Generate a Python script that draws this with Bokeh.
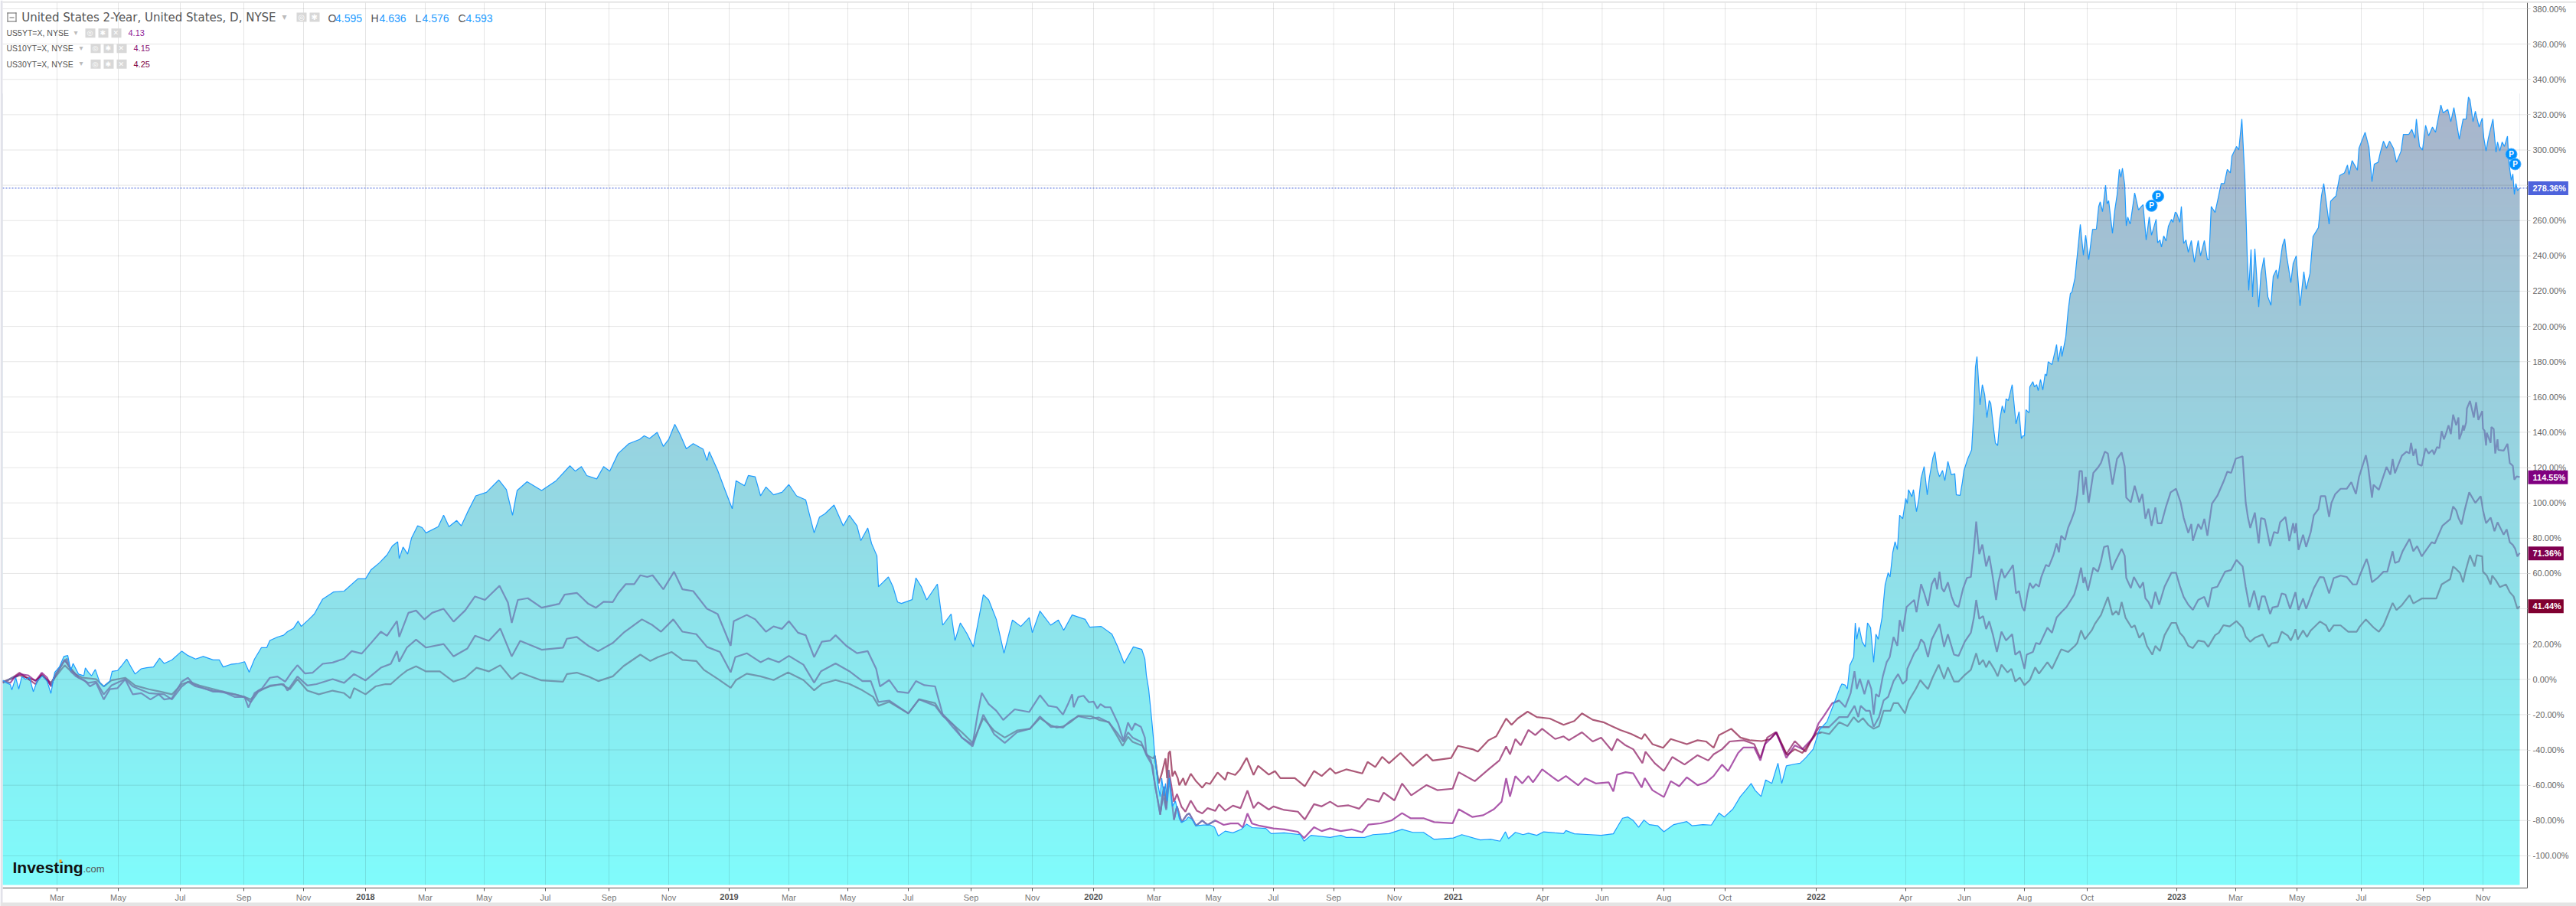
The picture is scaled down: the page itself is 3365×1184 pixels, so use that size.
import numpy as np
from bokeh.plotting import figure
from bokeh.models import (Range1d, FixedTicker, PrintfTickFormatter, Label, BoxAnnotation)
from bokeh.core.properties import value
from bokeh.embed import file_html
from bokeh.resources import INLINE

# chart position (session scale of the time axis), percent change since start
US2Y = [(3,-0.5),(8,-2),(13,-3),(15,-6),(20,1),(24,-5.5),(28,1.5),(33,0),(38,1),(43,-7),(48,-1),(55,2),(61,-1),(66,-8),(71,4),(77,7),(83,13),(88,13.5),(92,5),(95,9),(102,3),(109,2),(111,6.5),(115,4),(119,2),(124,5.6),(130,-2),(135,-4),(143,-1),(146,4.5),(153,5),(158,7.5),(165,11.5),(170,7.5),(176,3),(184,6),(191,6.6),(200,7),(208,12),(214,9),(224,11),(237,16),(245,13.5),(255,11.5),(265,13),(278,11),(286,11),(291,7),(301,8.5),(311,9),(319,10),(325,4),(332,11.5),(341,18),(348,18),(352,22),(362,24),(370,25),(375,27),(383,29),(389,33),(393,30),(403,34),(410,37),(421,45.5),(435,49.5),(449,50),(467,57),(477,57),(484,62),(495,66),(505,70.5),(512,75.6),(519,78),(521,68.4),(526,75),(532,71),(537,80),(545,87),(551,86),(556,83),(572,86.5),(579,93),(586,86.5),(596,90),(602,87),(610,94.5),(621,104),(635,106),(651,113),(661,107.5),(669,93),(675,107),(688,112),(707,107),(726,112.6),(744,121),(751,118),(759,120.6),(766,115.5),(779,113.6),(788,120.6),(796,118),(807,128),(821,133.6),(835,136),(841,138),(848,136.5),(858,140),(866,132),(873,136),(881,144.5),(888,138.7),(896,130.7),(905,133.6),(918,130.4),(923,124),(926,129),(937,118.4),(947,106.8),(956,96.7),(961,112.6),(972,109.7),(977,115.5),(986,114.8),(993,104),(1000,109),(1010,104.6),(1021,106),(1030,110.4),(1040,104),(1052,101.7),(1063,83),(1070,92),(1077,93.8),(1089,98.8),(1101,87),(1109,93),(1119,87),(1124,78.6),(1133,85.8),(1138,77),(1145,70),(1147,52.5),(1152,54.6),(1160,58),(1166,52.5),(1172,43.8),(1177,43),(1191,45.2),(1196,57.5),(1203,52.5),(1210,45),(1224,54),(1231,30.7),(1242,37),(1247,22),(1254,32),(1263,25.6),(1271,18.4),(1284,48),(1291,45),(1301,34),(1311,14.8),(1322,33.6),(1333,30),(1344,35),(1348,26.4),(1358,38.7),(1372,30.7),(1382,33.6),(1389,27.8),(1400,36.5),(1417,34),(1423,29.6),(1438,30),(1452,25.6),(1459,19),(1468,9),(1480,18.4),(1491,17),(1495,11.7),(1497,2.3),(1500,-5.6),(1504,-23),(1507,-37.5),(1508,-43),(1512,-59),(1515,-66.5),(1517,-56),(1520,-66),(1522,-59),(1524,-69),(1527,-56),(1531,-72),(1535,-69),(1540,-79),(1543,-81),(1548,-80),(1552,-78),(1557,-79.5),(1562,-83),(1572,-82.5),(1580,-82.5),(1586,-83.8),(1591,-88.8),(1600,-86),(1610,-87),(1621,-85),(1628,-82),(1635,-84),(1653,-84.5),(1660,-87.4),(1677,-87),(1698,-88),(1703,-91.7),(1712,-88.4),(1737,-89.6),(1751,-88.4),(1758,-89.6),(1782,-89.6),(1793,-88),(1814,-87.4),(1831,-85),(1845,-86.7),(1859,-86.7),(1873,-90.7),(1898,-89.9),(1909,-88),(1933,-91),(1947,-90.7),(1959,-91.7),(1966,-86.4),(1970,-90.3),(1979,-86.7),(1989,-88),(1996,-87.2),(2007,-88.4),(2016,-86.4),(2031,-87),(2042,-87.4),(2045,-85.7),(2056,-87.5),(2077,-88),(2091,-88.4),(2107,-87.5),(2112,-83.8),(2119,-78.7),(2126,-78),(2133,-80),(2140,-83.8),(2147,-79.7),(2154,-82.3),(2165,-83),(2173,-86.4),(2186,-82.3),(2203,-80.6),(2210,-83),(2224,-82.3),(2235,-82.6),(2245,-75.8),(2252,-78),(2263,-73.6),(2273,-66.4),(2280,-62.8),(2287,-59),(2292,-62.8),(2300,-66.4),(2306,-57),(2314,-59),(2322,-47.5),(2327,-59),(2333,-49),(2344,-48),(2351,-47.5),(2358,-44.6),(2368,-39.6),(2376,-28.7),(2386,-24),(2396,-12.8),(2403,-4.8),(2405.5,-2.6),(2410,-3.3),(2412.6,-5.5),(2416,8),(2421,12.6),(2423,32),(2425,22.7),(2428,29.6),(2432,21.3),(2436,18.4),(2439,32),(2443,29.3),(2447,9.7),(2450,25.6),(2453,22.7),(2458,35),(2462,53.6),(2466,60.4),(2468.5,58),(2472,72),(2475,78),(2478,73.5),(2481,93),(2485,91),(2489,102.5),(2491,99.6),(2492.6,107.5),(2497,103.5),(2499,107.5),(2503,95),(2506,102),(2509,114),(2513,120.6),(2517,104.6),(2520,114.8),(2524.5,125.7),(2527,129),(2530,119),(2533,114.8),(2537,118.4),(2540,112.6),(2544,123.5),(2548.5,116),(2553,116.5),(2555,104.6),(2560,104.3),(2563,112),(2565,118.4),(2570,125),(2575,130),(2578,153.5),(2580,177),(2582,183),(2586,155.6),(2589,167),(2592,161.5),(2595,148.4),(2598,158),(2600,156.4),(2603,144.8),(2606,134),(2609,132.5),(2612,147.7),(2615,155),(2618,151),(2620,159),(2623,158),(2628,167),(2633,144.8),(2637,151.7),(2640,136.4),(2642,138),(2644,138),(2646,152.8),(2650,151),(2651,165.8),(2655,168.7),(2657,165.8),(2660,167),(2662,163.6),(2665,170),(2668,164),(2671,173),(2673,172),(2675,180),(2680,178.4),(2686,189.7),(2688,180),(2692,189),(2693,183),(2698,194),(2701,208.6),(2704,218.7),(2706,219.4),(2710,227.4),(2713,240.4),(2717,257.8),(2721,240.4),(2724,251.7),(2728,237.8),(2733,255),(2738,255.2),(2741,268),(2743,270.6),(2746,265),(2750,280),(2752,269.4),(2754,271.3),(2759,252.8),(2762,265.8),(2765,274.5),(2768,289),(2770,284.6),(2772,289.7),(2775,280.3),(2777,257),(2779,262),(2782,258),(2783,260.4),(2788,275.7),(2793,266),(2796,267.6),(2799,269),(2803,249),(2807,262),(2810,251.7),(2816,260.7),(2818,247.4),(2821,249),(2823,245),(2826,251.3),(2829,248.4),(2832,256.7),(2836,260.7),(2838,259),(2841,264.8),(2843,264),(2847,259),(2849,268),(2852,247),(2855,249),(2858,242),(2862,248.7),(2866,236.4),(2871,248.7),(2874,240),(2879,248.7),(2883,237.8),(2885,237.8),(2888,268),(2893,264.6),(2897,272.6),(2901,281),(2905,281),(2909,289),(2913,287),(2915,296.5),(2921,302),(2924,300),(2928,317.5),(2932,283.5),(2935,240),(2937,220.4),(2940,243.6),(2942,216.8),(2945,244),(2950,211),(2953,230),(2957,239),(2962,216.8),(2966,212),(2969,228.4),(2973,232),(2975,227),(2981,245.8),(2984,249.7),(2986,241.5),(2992,224.8),(2995,235.6),(2999,240),(3004,211.7),(3009,231),(3012,221),(3017,230),(3021,251),(3028,256),(3032,274),(3035,281),(3042,258),(3044,271),(3051,274),(3056,285.6),(3062,287),(3066,291.5),(3068,286),(3072,294),(3079,288.5),(3081,301),(3089,310),(3094,301.6),(3098,282),(3101,292),(3106,293),(3109,298.7),(3113,305),(3117,301),(3121,305),(3126,301),(3130,293),(3136,299.4),(3139,308.8),(3146,308.8),(3150,311.7),(3154,306.7),(3156,317.5),(3160,302),(3164,300),(3168,314),(3172,308),(3177,313),(3181,310),(3188,325.5),(3191,321),(3197,323),(3201,316),(3205,324),(3209,314),(3212,306),(3217,317.5),(3221,317.5),(3224,330),(3226,328.4),(3230,316),(3233,322),(3238,313),(3242,318),(3244,307),(3247,299.4),(3250,306.7),(3256,317.5),(3260,298.7),(3262,304.5),(3265,299.4),(3268,304.5),(3271,302),(3275,307.8),(3277,292),(3280,282.8),(3282,286.4),(3284,274.8),(3286,281),(3288,277),(3291,278.4)]

US5Y = [(3,-1),(13,-2),(18,1),(25,3),(36,2.3),(46,-1),(54,3.8),(61,1),(66,-4),(71,2.3),(82,9.5),(87,11.7),(92,4.5),(99,1.6),(110,-0.6),(117,-4),(125,-2),(135,-11.4),(143,-5.6),(153,-5),(163,0),(173,-8.5),(184,-7.8),(196,-11.4),(207,-8.5),(214,-11.4),(224,-10.7),(237,-1.3),(245,0.9),(252,-2.7),(265,-5),(278,-7),(291,-7),(306,-10),(319,-10),(324,-16),(332,-7.8),(342,-5),(352,0.9),(362,1.6),(372,-1.3),(380,3.8),(388,8),(398,3.3),(408,3.8),(421,8.8),(434,9.5),(449,11.7),(459,16),(472,14.6),(485,21),(497,27),(505,24.7),(518,33),(521,24),(533,37.7),(543,39),(554,34),(564,37.7),(579,40),(592,32.7),(607,39),(620,47),(633,45),(652,53),(663,43.5),(668,32),(676,45),(689,46),(707,40.6),(730,42.8),(737,48),(753,49),(768,42.8),(778,40.6),(788,44),(800,43.8),(807,48.8),(817,54),(828,54),(836,59),(845,58),(852,59),(866,51),(880,61),(891,51),(905,50),(923,40),(937,37),(954,19),(958,33),(975,36.5),(986,34),(1000,27),(1010,30),(1021,28.6),(1030,33),(1042,26.4),(1052,25),(1063,12.6),(1073,21.3),(1084,22),(1091,25),(1105,19),(1119,14.8),(1133,16),(1144,6),(1149,-4),(1161,-0.4),(1172,-7),(1186,-7.7),(1196,-1),(1207,-3.3),(1221,-4),(1231,-20),(1242,-26),(1256,-33),(1270,-37),(1277,-18.5),(1282,-7.7),(1291,-14),(1301,-17.8),(1310,-23),(1325,-17),(1344,-18.5),(1358,-9),(1369,-15),(1380,-15.8),(1388,-20),(1395,-13.6),(1400,-8.5),(1402,-15.8),(1408,-10),(1415,-9.3),(1422,-13),(1428,-12.6),(1433,-16.5),(1437,-14),(1443,-15.8),(1450,-15.8),(1460,-25),(1467,-34.6),(1473,-24.5),(1478,-28.8),(1482,-25),(1490,-27),(1495,-33),(1497,-42),(1503,-46),(1508,-59),(1515,-76),(1518,-65),(1523,-74),(1527,-56),(1533,-79.6),(1537,-72),(1543,-81),(1550,-76.7),(1553,-76),(1562,-83),(1570,-80),(1577,-82.5),(1587,-80),(1598,-82.5),(1607,-81.7),(1617,-81.7),(1623,-84),(1629,-76),(1635,-81.7),(1645,-83),(1663,-84.5),(1677,-85),(1695,-86.4),(1703,-90),(1716,-83.8),(1726,-86),(1737,-84.5),(1751,-86),(1765,-85),(1779,-86.7),(1787,-82.3),(1803,-81.6),(1817,-80),(1831,-75.8),(1842,-78.7),(1859,-78.7),(1873,-80.9),(1897,-81.6),(1905,-73.6),(1923,-78),(1937,-77),(1951,-73.6),(1961,-69.3),(1967,-56),(1972,-66.4),(1979,-54.8),(1988,-59),(1996,-54.8),(2002,-58.4),(2014,-51),(2028,-55.5),(2035,-57.7),(2045,-54.8),(2061,-60),(2070,-56),(2084,-59),(2101,-58.4),(2107,-63.5),(2112,-54),(2123,-52.6),(2133,-53.3),(2144,-61.3),(2148,-56),(2158,-62.8),(2173,-66.7),(2182,-57.7),(2193,-60.6),(2203,-55.5),(2217,-60),(2228,-58.4),(2238,-54.8),(2249,-48.3),(2257,-52),(2270,-41.7),(2277,-38.6),(2291,-38.6),(2299,-46),(2305,-36.7),(2312,-33.8),(2320,-30),(2333,-44.6),(2344,-37.4),(2354,-39.6),(2368,-33),(2375,-25),(2382,-20.7),(2393,-13.5),(2402,-12),(2410,-15.7),(2417,-7.7),(2422,4.6),(2425,-5.5),(2429,0.3),(2435,-8.4),(2440,-0.4),(2444,-5.5),(2447,-20),(2450,-8.4),(2454,-9.9),(2459,1.7),(2464,9.7),(2468,12.6),(2473,24),(2478,19),(2481,33.6),(2485,27),(2490,41),(2500,45),(2503,38),(2506,46),(2509,54),(2513,49),(2518,41.6),(2523,54),(2527,57.5),(2530,51),(2533,61),(2536,51.7),(2539,49.6),(2544,55),(2549,46.7),(2553,42.3),(2558,41),(2564,51.7),(2569,57.5),(2574,58),(2578,74),(2581,89.4),(2585,71),(2589,76.4),(2594,64),(2598,70),(2602,59.7),(2607,45),(2610,55),(2614,62.6),(2618,57.5),(2626,62.6),(2629,64.8),(2633,48.8),(2637,50),(2641,41),(2644,38.7),(2648,48.8),(2651,54.6),(2655,51.7),(2659,54),(2663,52.5),(2666,58),(2672,64.8),(2676,64),(2682,70.6),(2686,77),(2689,72),(2692,81.4),(2697,79),(2701,85.8),(2705,90),(2710,96),(2713,104.6),(2716,118),(2719,118),(2721,104.6),(2724,114.8),(2728,100),(2734,117),(2740,120),(2744,122.7),(2749,129),(2753,128),(2759,110.4),(2765,125),(2771,128.6),(2775,120.6),(2777,103),(2783,100.3),(2788,109.7),(2794,100.3),(2798,105),(2802,91),(2806,96.7),(2810,87),(2815,97.4),(2818,88.4),(2823,88.4),(2829,98),(2835,106),(2842,108),(2848,100.3),(2852,91.6),(2858,83),(2862,88),(2864,78.6),(2871,88),(2875,85),(2879,91),(2883,81.4),(2889,99.6),(2896,104),(2904,112),(2909,117.7),(2914,117),(2920,125),(2929,126.4),(2933,100.3),(2936,91.6),(2939,85.8),(2945,94.5),(2950,77),(2953,91.4),(2958,90.7),(2965,75.5),(2970,83.5),(2975,82.8),(2978,89),(2985,92),(2990,78.4),(2995,88.5),(2997,82.8),(2999,88.5),(3002,73.3),(3008,82),(3012,75),(3018,83.5),(3022,93),(3028,96.5),(3031,103.8),(3037,103.8),(3042,92),(3045,100),(3050,105),(3057,108),(3065,108),(3071,111.7),(3077,105),(3081,114.6),(3090,127),(3093,120.4),(3098,103),(3100,110.3),(3107,107.4),(3117,120.4),(3122,116),(3125,124.8),(3128,116.8),(3137,126.7),(3143,129),(3147,128),(3149,134),(3152,126.7),(3155,130.6),(3158,122),(3163,121),(3168,131),(3172,128),(3177,130),(3179,127.4),(3183,131.7),(3186,131),(3189,140.7),(3192,136),(3195,139.7),(3198,144),(3201,139),(3204,150),(3208,144),(3211,148.4),(3212,136),(3215,139.7),(3217,144),(3218,141),(3221,145.5),(3222,153.5),(3226,157.8),(3231,148.4),(3234,157),(3237,147),(3242,152),(3243,142),(3245,141),(3247,132.5),(3248,139.7),(3253,134),(3254,143),(3257,141.9),(3259,128),(3262,136),(3263,130),(3270,129.6),(3275,133.5),(3278,122.6),(3282,121),(3284,113.2),(3287,115),(3291,114.6)]

US10Y = [(3,-2),(18,1.6),(25,3.8),(46,-2.7),(54,3),(66,-3.5),(71,1.6),(84,11),(92,6),(102,1),(115,-2),(125,-1.3),(135,-8.5),(145,-3.5),(163,0.1),(173,-4),(194,-7.8),(214,-8.5),(224,-11.4),(237,-4),(245,-1.3),(255,-4),(278,-6.4),(306,-8.5),(319,-10),(327,-12.9),(337,-7),(352,-3.5),(370,-2.7),(375,-6.4),(388,1.6),(401,-3.5),(413,-2.7),(434,0.1),(449,-2),(462,3),(477,-0.6),(497,6.6),(510,8.8),(518,16),(521,10),(531,18),(543,22.5),(556,18),(579,20),(592,13),(610,17.5),(620,24.7),(638,21.8),(653,28.8),(668,13),(679,21.8),(707,16.8),(735,18),(740,23),(753,24),(768,19),(781,16),(800,20.6),(814,26.4),(838,34),(852,30.7),(863,27),(879,34),(891,27),(909,25.6),(923,18.4),(940,15.5),(954,4),(960,12.6),(975,14.8),(993,9.7),(1003,11.9),(1017,9.7),(1030,13.3),(1049,8.3),(1063,-1.9),(1072,4.6),(1091,9),(1109,4.6),(1126,-1),(1137,-1),(1147,-12.8),(1161,-12),(1186,-19.3),(1200,-11.3),(1221,-15),(1231,-20.7),(1245,-25.8),(1256,-33),(1270,-38),(1284,-20),(1298,-31),(1312,-36),(1328,-30),(1345,-28),(1358,-21),(1372,-27),(1380,-26.7),(1388,-27.4),(1397,-23.8),(1408,-20.9),(1423,-22.3),(1435,-21.6),(1448,-24.5),(1460,-31),(1467,-35.4),(1473,-30),(1479,-33),(1490,-35.4),(1497,-43),(1505,-49),(1508,-59),(1515,-76.7),(1520,-60.7),(1523,-73),(1526,-51.3),(1528,-56),(1533,-69.4),(1537,-65),(1543,-72.3),(1548,-75),(1555,-68.7),(1563,-74.5),(1570,-76),(1577,-73),(1587,-74.5),(1592,-70.9),(1600,-74.5),(1610,-71.6),(1620,-73),(1629,-63),(1637,-73),(1643,-69.7),(1657,-73.8),(1663,-72),(1677,-74),(1695,-75),(1704,-79.4),(1716,-70.7),(1726,-72),(1737,-69.3),(1747,-72),(1761,-71.4),(1775,-73.3),(1786,-67.8),(1801,-69.3),(1807,-64.2),(1821,-68.6),(1831,-59),(1843,-65.7),(1863,-59.9),(1877,-62.8),(1897,-62),(1905,-52.6),(1926,-57.7),(1944,-51),(1958,-46),(1967,-38),(1972,-42.5),(1979,-33.8),(1986,-37.4),(1996,-28.7),(2005,-31.6),(2014,-28),(2031,-33.8),(2042,-32.3),(2049,-34.5),(2066,-30),(2080,-35.2),(2091,-33),(2105,-40.3),(2112,-33.8),(2123,-37.4),(2133,-39.6),(2145,-47.5),(2149,-41),(2161,-47.5),(2173,-51.9),(2184,-44),(2200,-48.3),(2217,-43),(2231,-46),(2238,-42.5),(2249,-39.6),(2259,-35.2),(2277,-34.5),(2291,-36.7),(2299,-44.6),(2308,-33),(2319,-30),(2333,-42.5),(2344,-35),(2358,-41),(2368,-32.3),(2376,-27),(2389,-27),(2402,-21.4),(2413,-21.4),(2422,-15),(2427,-21.4),(2430,-15),(2437,-17.8),(2442,-17.8),(2447,-27),(2454,-21.4),(2460,-12),(2466,-9.9),(2473,-1),(2479,3),(2485,-2.6),(2490,-0.4),(2491,6),(2500,14.8),(2505,17.7),(2509,22.7),(2513,20.6),(2518,12.6),(2523,22.7),(2533,31.4),(2539,18.4),(2544,25.6),(2552,14),(2558,13.3),(2566,21.3),(2574,26.4),(2578,35),(2581,45),(2585,34.3),(2590,35.8),(2594,28.5),(2598,32.9),(2603,25),(2608,15.5),(2614,27),(2620,22),(2628,25.6),(2632,14),(2638,16),(2644,6),(2647,14),(2655,15.5),(2659,20.6),(2664,19.9),(2674,29.3),(2680,26.4),(2686,35),(2692,38),(2699,41),(2709,48),(2713,54),(2718,63.3),(2721,54.6),(2723,58),(2727,50.3),(2734,63.3),(2740,61),(2744,67),(2748,75),(2753,75.7),(2758,62),(2763,67),(2771,74),(2775,70),(2777,57.5),(2783,51.7),(2787,58),(2795,51.7),(2799,55),(2802,46),(2806,43.8),(2810,40),(2815,49.6),(2820,42.3),(2827,52.5),(2836,60.4),(2842,60.4),(2847,53),(2852,46.7),(2858,42.3),(2864,39.4),(2871,45),(2879,46.7),(2884,40.9),(2889,51.7),(2896,52.5),(2906,61),(2914,62),(2921,67.7),(2929,64),(2933,52.5),(2938,40.9),(2944,50.3),(2950,39.3),(2954,47),(2958,47),(2965,37),(2968,40.7),(2975,41.4),(2980,48.7),(2985,48),(2991,40),(2998,49.4),(3002,39.3),(3008,45.8),(3012,40),(3022,51.6),(3030,58),(3035,57.8),(3042,48.7),(3048,57.4),(3057,58.8),(3065,58),(3073,53.8),(3078,53.8),(3082,58.8),(3091,68.3),(3094,64),(3098,55),(3105,57.4),(3113,61),(3118,61),(3125,72.6),(3128,66),(3133,66.8),(3138,72.6),(3147,79.6),(3152,72.6),(3157,75.5),(3163,69.7),(3170,74),(3176,77.7),(3180,77),(3190,87),(3200,90.7),(3204,98),(3208,95.8),(3211,91.4),(3215,87.8),(3219,95.8),(3225,106),(3233,100),(3240,103.8),(3243,95.8),(3247,88.5),(3253,91.7),(3258,84),(3262,89),(3270,82),(3274,85),(3278,77.7),(3282,76.2),(3285,74),(3288,69.7),(3291,71.6)]

US30Y = [(3,-1.6),(25,2.3),(46,-0.6),(54,2.3),(66,-2),(71,0.9),(84,8),(94,3.8),(107,1),(125,0.1),(135,-4),(145,-0.6),(163,0.9),(176,-3.5),(194,-5.6),(209,-7),(224,-8.5),(237,-2.7),(247,-1.3),(260,-3.5),(286,-6.4),(306,-8.5),(319,-10),(327,-11.4),(337,-6.4),(352,-4),(367,-2.7),(378,-5.6),(388,0.1),(401,-6.4),(416,-8.5),(434,-6.4),(449,-7.8),(457,-10.7),(462,-5),(477,-8.5),(490,-4),(503,-2.7),(510,-2.7),(523,2.3),(531,5),(543,7.4),(556,4.5),(574,4.5),(592,-1.3),(607,0.9),(622,6.6),(638,4.5),(653,8),(668,0.1),(679,3.8),(707,-0.6),(735,-1.3),(740,3),(753,3.8),(768,1.6),(781,-1),(800,1.7),(814,7.5),(836,14),(849,10.4),(859,12.6),(877,15.5),(891,11),(909,10.4),(919,5.4),(937,0.3),(954,-4.8),(961,-0.4),(975,3.2),(993,1.7),(1010,-0.4),(1029,3.9),(1049,-0.4),(1063,-6.2),(1073,-2.6),(1091,-0.4),(1109,-2.6),(1126,-6.2),(1140,-9.9),(1147,-15),(1161,-12.8),(1186,-19.3),(1200,-11.3),(1221,-13.5),(1228,-18.5),(1245,-25.8),(1256,-30),(1270,-36),(1284,-22),(1298,-29),(1312,-33),(1328,-29),(1345,-28),(1358,-22),(1372,-26),(1380,-27.4),(1388,-26.7),(1397,-24.5),(1408,-20.6),(1425,-20.9),(1435,-23),(1448,-24.2),(1460,-33),(1466,-37.7),(1473,-32.5),(1479,-35.4),(1492,-37.7),(1498,-43),(1506,-44.8),(1508,-43.3),(1513,-59),(1517,-53.5),(1522,-44.8),(1524,-56),(1526,-41.9),(1528,-40.7),(1531,-55),(1534,-52),(1538,-56),(1540,-60),(1545,-56),(1548,-60),(1555,-53.5),(1562,-57.8),(1570,-61.4),(1575,-58.6),(1580,-59.3),(1590,-52.8),(1600,-57),(1603,-52.8),(1613,-54.2),(1619,-51.3),(1628,-44.5),(1637,-54.2),(1643,-49),(1657,-54),(1665,-52),(1672,-56),(1680,-56),(1691,-56),(1704,-60.6),(1716,-51.9),(1726,-54.8),(1737,-50.4),(1744,-53.3),(1758,-51),(1779,-53.3),(1786,-46.8),(1796,-49.7),(1805,-43.9),(1814,-47.5),(1829,-41.7),(1845,-49),(1863,-42.5),(1871,-46),(1895,-44.6),(1904,-37.7),(1923,-39.6),(1930,-41),(1944,-34.5),(1954,-32.3),(1967,-22.2),(1974,-25.8),(1982,-22.2),(1995,-18.3),(2007,-21.4),(2024,-22.2),(2042,-25.8),(2056,-23.6),(2066,-19.3),(2080,-22.9),(2094,-24.3),(2105,-26.5),(2116,-28.7),(2130,-30.9),(2144,-33.8),(2148,-30.9),(2158,-36.7),(2172,-38.8),(2182,-33.8),(2203,-36.7),(2217,-34.5),(2228,-35.2),(2238,-38.8),(2245,-31.6),(2261,-28),(2273,-33),(2285,-34.5),(2301,-35),(2312,-33.8),(2320,-30),(2334,-43),(2344,-39.6),(2354,-41.7),(2365,-35),(2372,-30.9),(2379,-30),(2389,-31),(2402,-24.3),(2413,-26.5),(2421,-21.4),(2427,-24.3),(2433,-22),(2440,-25.8),(2447,-28),(2454,-26.5),(2460,-17.8),(2469,-17.8),(2473,-13.5),(2479,-13.5),(2488,-19.3),(2493,-12),(2502,-5.5),(2508,-0.4),(2512,-2.6),(2518,-5.5),(2524,1),(2532,8.3),(2539,0.3),(2544,6.8),(2552,-1.2),(2558,-1.2),(2566,2.5),(2574,5.4),(2581,14.8),(2585,8.3),(2590,11),(2594,6.8),(2598,10.4),(2605,5.4),(2609,1.7),(2614,8.3),(2622,3.9),(2627,6),(2632,-1.2),(2638,1),(2644,-3.3),(2651,-0.4),(2658,6.8),(2663,3.2),(2674,9.7),(2680,6),(2692,17),(2701,15.5),(2710,19),(2713,20.6),(2718,27.8),(2723,22.7),(2732,27.8),(2736,31.4),(2744,36.5),(2753,46.7),(2759,36.5),(2764,38.7),(2767,36.5),(2771,43.8),(2776,35),(2784,29.3),(2788,30.7),(2794,23.5),(2799,26.4),(2804,19),(2811,14),(2815,19),(2821,16),(2827,25),(2836,32),(2842,32),(2847,26.4),(2852,24),(2858,19),(2864,17.7),(2871,22),(2879,21.3),(2884,18.4),(2893,25),(2898,26.4),(2904,30.7),(2912,30),(2921,33),(2929,29.3),(2933,24.2),(2939,21.3),(2945,23.5),(2952,24.8),(2955,25.5),(2963,18.3),(2967,20.4),(2975,21),(2980,27),(2988,24.8),(2992,22),(2995,24.8),(2998,28.4),(3001,22.6),(3008,27.7),(3013,24),(3018,27.7),(3030,32.8),(3038,30.6),(3042,27),(3048,30.6),(3057,30.6),(3067,27),(3078,27),(3082,29.9),(3090,34),(3100,29.4),(3107,27),(3113,30.6),(3125,43.3),(3130,39.3),(3137,42),(3147,47.7),(3152,43),(3163,45.8),(3170,45.8),(3182,45.8),(3189,53.8),(3200,56.7),(3204,64),(3208,62.5),(3213,60.3),(3217,55),(3220,61),(3226,70.4),(3232,64),(3235,70.4),(3242,69.7),(3243,61),(3248,58.8),(3253,53.8),(3255,58.8),(3260,56),(3265,52.3),(3273,53.8),(3278,49.4),(3283,47),(3288,40),(3291,41.4)]

tick_pos = [74,154,235,318,396,477,555,632,712,795,873,952,1030,1107,1186,1268,1348,1428,1507,1584.5,1663,1741.6,1821,1898,2014.5,2092.4,2173,2253,2372,2489,2565.5,2644,2726,2843,2920,3000,3084,3165,3243]
tick_txt = ["Mar","May","Jul","Sep","Nov","2018","Mar","May","Jul","Sep","Nov","2019","Mar","May","Jul","Sep","Nov","2020","Mar","May","Jul","Sep","Nov","2021","Apr","Jun","Aug","Oct","2022","Apr","Jun","Aug","Oct","2023","Mar","May","Jul","Sep","Nov"]
y_ticks = list(range(-100, 381, 20))

last_vals = [("278.36%", 278.36, "#4E63DC"), ("114.55%", 114.55, "#800080"), ("71.36%", 71.36, "#800050"), ("41.44%", 41.44, "#800030")]
pins = [(2818.6, 273.8), (2810, 268.4), (3280, 297.6), (3285, 292)]

PX = 2.306
def Y(py):
    return (887.3 - py) / PX

X_L, X_R = 3, 3301
Y_T, Y_AX, Y_FILL = Y(3), Y(1160), Y(1156)

p = figure(width=3365, height=1184, output_backend="svg", toolbar_location=None,
           x_range=Range1d(0, 3365), y_range=Range1d(Y(1184), Y(0)), y_axis_location="right",
           min_border_left=0, min_border_right=0, min_border_top=0, min_border_bottom=0,
           background_fill_color="white", border_fill_color="white", outline_line_color=None)

FONT = "Liberation Sans"
xb, yb = np.array(US2Y).T

# gradient under the 2-Year area
n = 450
top, bot = (170, 180, 203), (128, 252, 252)
img = np.zeros((n, 2), dtype=np.uint32)
view = img.view(dtype=np.uint8).reshape((n, 2, 4))
for k in range(n):
    t = k / (n - 1)
    view[k, :, 0] = int(bot[0] + (top[0] - bot[0]) * t)
    view[k, :, 1] = int(bot[1] + (top[1] - bot[1]) * t)
    view[k, :, 2] = int(bot[2] + (top[2] - bot[2]) * t)
    view[k, :, 3] = 255
p.image_rgba(image=[img], x=3, y=Y_FILL, dw=3288, dh=332 - Y_FILL, level="image")
p.varea(x=xb, y1=yb, y2=[400] * len(xb), fill_color="white", level="image")

# grid, stopped at the axes
p.grid.visible = False
p.segment(x0=tick_pos, x1=tick_pos, y0=[Y_FILL] * len(tick_pos), y1=[Y_T] * len(tick_pos),
          line_color="black", line_alpha=0.1, line_width=1, level="underlay")
p.segment(x0=[X_L] * len(y_ticks), x1=[X_R] * len(y_ticks), y0=y_ticks, y1=y_ticks,
          line_color="black", line_alpha=0.1, line_width=1, level="underlay")

# three yield lines: the area veils them wherever they run under the 2-Year curve
styles = [(US30Y, "#800030", "#6B8AA5"), (US10Y, "#800050", "#6E83B0"), (US5Y, "#800080", "#7081B5")]
for data, over, under in styles:
    xs, ys = np.array(data).T
    below = ys <= np.interp(xs, xb, yb)
    d = np.convolve(below.astype(int), [1, 1, 1], "same") > 0
    e = np.convolve((~below).astype(int), [1, 1, 1], "same") > 0
    p.line(xs, np.where(e, ys, np.nan), line_color=over, line_alpha=0.65, line_width=2.2)
    p.line(xs, np.where(d, ys, np.nan), line_color=under, line_alpha=0.85, line_width=2.2)

p.line(xb, yb, line_color="#1E9BFF", line_width=1.2)

# last price line
p.line([X_L, X_R], [last_vals[0][1]] * 2, line_color="#3F5FD8", line_width=1, line_dash="2 2")

# pins
px, py = zip(*pins)
p.scatter(px, py, size=15, fill_color="#0091FF", line_color="#4DB0FF", line_width=1)
p.text(px, py, text=["P"] * 4, text_color="white", text_font=value(FONT), text_font_style="bold",
       text_font_size="10px", text_align="center", text_baseline="middle")

# axes, held at fixed places so the plot area can take the whole canvas
ax = p.xaxis[0]
ax.fixed_location = Y_AX
ax.bounds = (X_L, X_R)
ax.ticker = FixedTicker(ticks=tick_pos)
ax.major_label_overrides = {t: ("" if s[0] == "2" else s) for t, s in zip(tick_pos, tick_txt)}
ax.axis_line_color = "#555555"
ax.major_tick_line_color = "#555555"
ax.major_tick_out = 4
ax.major_tick_in = 0
ax.minor_tick_line_color = None
ax.major_label_text_color = "#777777"
ax.major_label_text_font = FONT
ax.major_label_text_font_size = "11px"
ax.major_label_standoff = 2

ay = p.yaxis[0]
ay.fixed_location = X_R
ay.bounds = (Y_AX, Y_T)
ay.ticker = FixedTicker(ticks=y_ticks)
ay.formatter = PrintfTickFormatter(format="%.2f%%")
ay.axis_line_color = "#555555"
ay.major_tick_line_color = "#D0D0D0"
ay.major_tick_out = 4
ay.major_tick_in = 0
ay.minor_tick_line_color = None
ay.major_label_text_color = "#666666"
ay.major_label_text_font = FONT
ay.major_label_text_font_size = "11px"
ay.major_label_standoff = 3

# bold year labels
for t, s in zip(tick_pos, tick_txt):
    if s[0] == "2":
        p.add_layout(Label(x=t, y=Y(1171), text=s, text_font=FONT, text_font_style="bold",
                           text_font_size="11px", text_color="#555555", text_align="center", text_baseline="middle"))

# last-value flags
for txt, v, col in last_vals:
    p.add_layout(Label(x=3302, y=v, text=txt, text_color="white", text_font=FONT, text_font_style="bold",
                       text_font_size="11px", text_baseline="middle", background_fill_color=col, padding=(6, 3, 3, 3)))

# legend
def T(x, py, s, color="#555555", size="12px", style="normal", font="Liberation Sans"):
    p.add_layout(Label(x=x, y=Y(py), text=s, text_color=color, text_font=font, text_font_size=size,
                       text_font_style=style, text_baseline="middle"))

def B(x0, x1, y0, y1, col):
    p.add_layout(BoxAnnotation(left=x0, right=x1, top=Y(y0), bottom=Y(y1), fill_color=col, fill_alpha=1,
                               line_color=None, level="annotation"))

T(27.7, 22.7, "United States 2-Year, United States, D, NYSE", size="15px", font="DejaVu Sans")
B(9, 21, 16, 17, "#666666"); B(9, 21, 27, 28, "#666666"); B(9, 10, 16, 28, "#666666"); B(20, 21, 16, 28, "#666666"); B(12, 18, 22, 23, "#666666")
T(368, 21.5, "▾", color="#BBBBBB", size="12px", font="DejaVu Sans")
for a in (387, 404):
    B(a, a + 13, 16, 28, "#D8D8D8")
T(389, 22, "◎", color="white", size="10px", font="DejaVu Sans")
T(406, 22, "✱", color="white", size="10px", font="DejaVu Sans")
hdr = [(428, "O", "#555555"), (437.5, "4.595", "#1E9BFF"), (484, "H", "#555555"), (495, "4.636", "#1E9BFF"),
       (542, "L", "#555555"), (551, "4.576", "#1E9BFF"), (598, "C", "#555555"), (608, "4.593", "#1E9BFF")]
for x, s, c in hdr:
    T(x, 23, s, color=c, size="14px")
rows = [("US5YT=X, NYSE", 42.7, 111, 167, "4.13", "#8E1C99"), ("US10YT=X, NYSE", 62.7, 118, 174, "4.15", "#8B0F6F"), ("US30YT=X, NYSE", 83.3, 118, 174, "4.25", "#800040")]
for s, yy, ix, vx, val, col in rows:
    T(8, yy, s, size="10.5px")
    T(ix - 15, yy - 1, "▾", color="#BBBBBB", size="10px", font="DejaVu Sans")
    for a in (ix, ix + 17, ix + 34):
        B(a, a + 13, yy - 6, yy + 6, "#D8D8D8")
    for a, g in ((ix, "◎"), (ix + 17, "✱"), (ix + 34, "✕")):
        T(a + 2, yy, g, color="white", size="9px", font="DejaVu Sans")
    T(vx, yy, val, color=col, size="11px")

# logo
T(16, 1133, "Investing", color="#111111", size="21px", style="bold")
T(108, 1135, ".com", color="#555555", size="13px")
B(77, 80, 1123, 1127, "#F5A623")

# page chrome
B(0, 3, 0, 1184, "#E2E2EA")
B(3, 3365, 1.5, 3, "#DDDDDD")
B(0, 3365, 1179, 1184, "#E4E4E4")

open("out.html", "w").write(file_html(p, INLINE))
